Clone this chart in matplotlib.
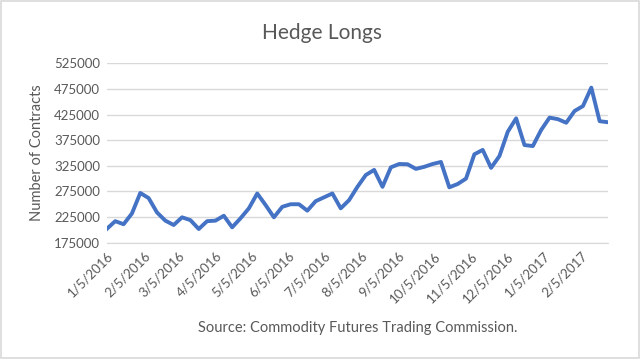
import numpy as np
import pandas as pd
import matplotlib
matplotlib.use("Agg")
import matplotlib.pyplot as plt
import matplotlib.dates as mdates
from matplotlib.patches import Rectangle

# weekly COT report dates, starting 1/5/2016
start_date = "2016-01-05"
n_weeks = 61
hedge_longs = [
    202000, 217000, 211000, 232000, 272000, 262000, 234000, 218000, 209500, 224500,
    219000, 201700, 217000, 218000, 227500, 205000, 222600, 242000, 271000, 248500,
    224500, 245000, 250000, 250000, 237500, 256000, 263500, 271000, 242000, 258000,
    284000, 307000, 317000, 284000, 322000, 328500, 328000, 319000, 323000, 328500,
    332500, 283000, 289500, 300000, 347500, 356000, 321000, 344000, 391500, 417500,
    365500, 363500, 395000, 419000, 416000, 409000, 432000, 441500, 477500, 412000,
    410000,
]
tick_dates = ["2016-01-05", "2016-02-05", "2016-03-05", "2016-04-05", "2016-05-05",
              "2016-06-05", "2016-07-05", "2016-08-05", "2016-09-05", "2016-10-05",
              "2016-11-05", "2016-12-05", "2017-01-05", "2017-02-05"]
y_ticks = [175000, 225000, 275000, 325000, 375000, 425000, 475000, 525000]

dates = pd.date_range(start_date, periods=n_weeks, freq="7D")
ticks = pd.to_datetime(tick_dates)

plt.rcParams["font.family"] = ["Lato", "DejaVu Sans"]
text_col = "#595959"
grid_col = "#d9d9d9"

fig = plt.figure(figsize=(6.4, 3.59), dpi=100)
ax = fig.add_axes([0.167, 0.324, 0.783, 0.4997])

ax.plot(dates, hedge_longs, color="#4472c4", lw=2.8, solid_joinstyle="round")

ax.set_ylim(y_ticks[0], y_ticks[-1])
ax.set_yticks(y_ticks)
ax.set_xlim(dates[0], dates[-1])
ax.set_xticks(ticks)
ax.set_xticklabels([f"{d.month}/{d.day}/{d.year}" for d in ticks],
                   rotation=45, ha="right", rotation_mode="anchor")
ax.grid(axis="y", color=grid_col, lw=1)
ax.set_axisbelow(True)
for s in ["top", "left", "right"]:
    ax.spines[s].set_visible(False)
ax.spines["bottom"].set_color(grid_col)
ax.tick_params(length=0, labelsize=9.5, colors=text_col, pad=5)

ax.set_ylabel("Number of Contracts", fontsize=10.5, color=text_col, labelpad=7)
fig.text(0.503, 0.908, "Hedge Longs", fontsize=15, color=text_col,
         ha="center", va="center")
ax.set_xlabel("Source: Commodity Futures Trading Commission.", fontsize=10.5,
              color=text_col, labelpad=12)

fig.patches.append(Rectangle((0.002, 0.003), 0.996, 0.994, transform=fig.transFigure,
                             fill=False, ec=grid_col, lw=1.2))

fig.savefig("out.png", dpi=100)
